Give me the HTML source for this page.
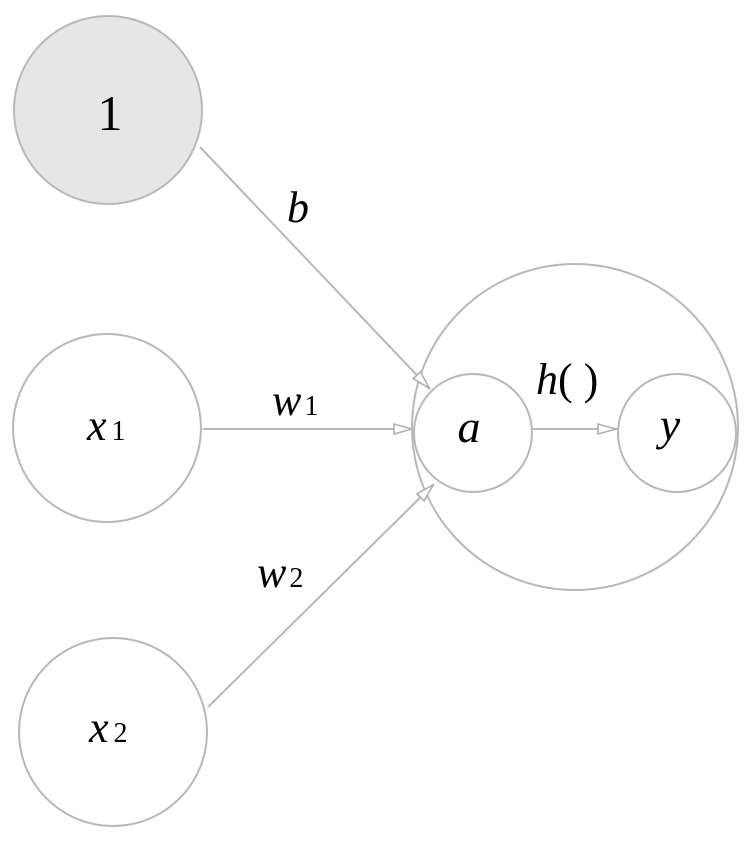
<!DOCTYPE html>
<html><head><style>html,body{margin:0;padding:0;background:#fff}</style></head>
<body>
<svg width="750" height="836" viewBox="0 0 750 836" xmlns="http://www.w3.org/2000/svg">
<defs>
<marker id="ar" viewBox="0 0 20 12" refX="20" refY="6" markerWidth="20" markerHeight="12" markerUnits="userSpaceOnUse" orient="auto">
<path d="M1,1 L19,6 L1,11 Z" fill="#fff" stroke="#b0b0b0" stroke-width="1.6"/>
</marker>
</defs>
<g fill="none" stroke="#b8b8b8" stroke-width="2">
<circle cx="108" cy="110" r="94" fill="#e6e6e6"/>
<circle cx="107" cy="428" r="94" fill="#fff"/>
<circle cx="113" cy="732" r="94" fill="#fff"/>
<ellipse cx="575" cy="427" rx="163" ry="163"/>
<circle cx="473" cy="433" r="59" fill="#fff"/>
<circle cx="677" cy="433" r="59" fill="#fff"/>
<line x1="200" y1="147" x2="430" y2="389" marker-end="url(#ar)"/>
<line x1="203" y1="429" x2="413" y2="429" marker-end="url(#ar)"/>
<line x1="208" y1="707" x2="434" y2="484" marker-end="url(#ar)"/>
<line x1="533" y1="429" x2="617" y2="429" marker-end="url(#ar)"/>
</g>
<g font-family="'Liberation Serif',serif" fill="#000">
<text x="110" y="130" font-size="50" text-anchor="middle">1</text>
<text x="298" y="222" font-size="44" font-style="italic" text-anchor="middle">b</text>
<text x="272" y="415" font-size="44" font-style="italic">w<tspan font-size="28" font-style="normal" dx="3">1</tspan></text>
<text x="87" y="440" font-size="44" font-style="italic">x<tspan font-size="28" font-style="normal" dx="5">1</tspan></text>
<text x="257" y="587" font-size="44" font-style="italic">w<tspan font-size="28" font-style="normal" dx="3">2</tspan></text>
<text x="89" y="742" font-size="44" font-style="italic">x<tspan font-size="28" font-style="normal" dx="5">2</tspan></text>
<text x="536" y="394" font-size="44"><tspan font-style="italic">h</tspan>( )</text>
<text x="469" y="442" font-size="46" font-style="italic" text-anchor="middle">a</text>
<text x="670" y="440" font-size="46" font-style="italic" text-anchor="middle">y</text>
</g>
</svg>
</body></html>
